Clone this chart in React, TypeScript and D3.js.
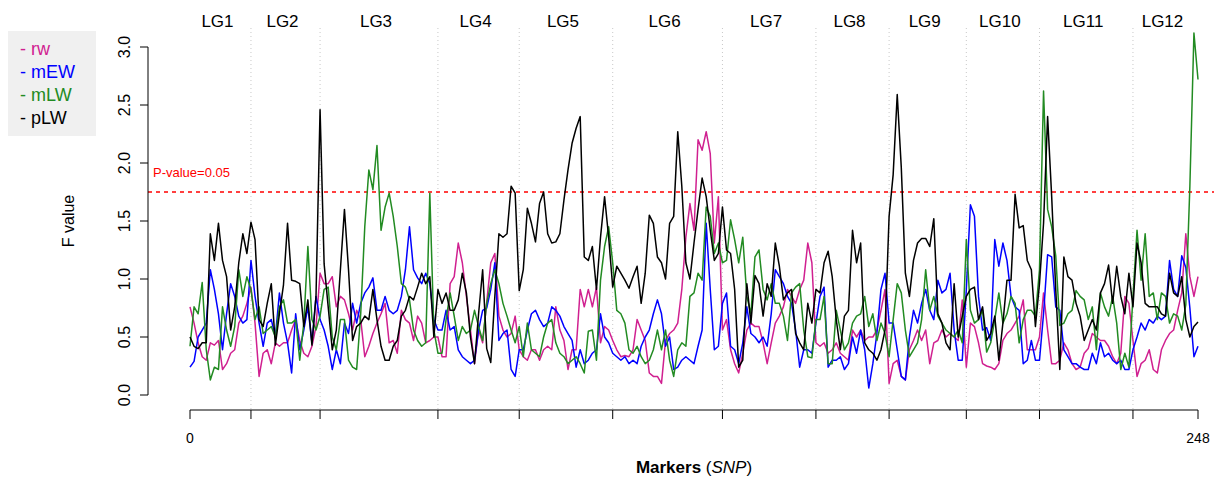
import React from "react";
import * as d3 from "d3";

const rw = [0.76,0.62,0.45,0.33,0.30,0.45,0.43,0.47,0.22,0.27,0.36,0.39,0.62,0.68,0.79,0.93,0.62,0.16,0.36,0.39,0.27,0.45,0.42,0.45,0.45,0.56,0.65,0.47,0.36,0.33,0.42,0.59,1.05,0.96,0.96,1.02,0.76,0.85,0.82,0.70,0.56,0.73,0.65,0.33,0.42,0.53,0.62,0.70,0.79,0.45,0.47,0.36,0.73,0.65,0.62,0.47,0.68,0.62,0.45,0.47,0.50,0.50,0.33,0.33,0.96,1.02,1.31,1.14,0.85,0.56,0.27,0.56,0.45,0.80,1.14,1.22,0.68,0.56,0.50,0.53,0.68,0.39,0.33,0.30,0.39,0.39,0.30,0.39,0.42,0.39,0.76,0.56,0.47,0.22,0.39,0.39,0.91,0.76,0.91,0.76,0.93,0.45,0.59,0.56,0.47,0.39,0.33,0.34,0.33,0.39,0.65,0.56,0.47,0.19,0.16,0.16,0.10,0.47,0.53,0.56,0.62,0.91,1.36,1.65,1.42,2.20,2.11,2.27,2.08,1.31,1.71,0.56,0.65,0.39,0.27,0.19,0.36,0.56,0.62,0.59,0.59,0.45,0.27,0.45,0.62,0.68,0.76,0.91,0.85,0.79,0.91,0.99,1.31,1.14,0.45,0.42,0.45,0.36,0.39,0.45,0.36,0.33,0.30,0.56,0.50,0.56,0.47,0.50,0.50,0.56,0.73,0.91,0.10,0.27,0.30,0.16,0.13,0.39,0.47,0.56,0.47,0.56,0.27,0.45,0.47,0.56,0.50,0.53,0.50,0.47,0.82,0.24,0.62,0.59,0.45,0.27,0.25,0.24,0.22,0.27,0.47,0.53,0.56,0.62,0.68,0.82,0.39,0.39,0.39,0.50,0.88,0.56,0.27,0.27,0.30,0.45,0.39,0.27,0.22,0.24,0.36,0.40,0.53,0.50,0.47,0.47,0.42,0.33,0.27,0.36,0.85,0.79,0.47,0.16,0.27,0.30,0.39,0.22,0.19,0.39,0.47,0.53,0.56,0.73,0.88,1.39,1.02,0.85,1.02];

const mEW = [0.24,0.29,0.50,0.56,0.62,1.08,0.91,0.70,0.39,0.70,0.96,0.85,0.68,0.62,0.65,1.16,0.85,0.62,0.42,0.62,0.65,0.50,0.88,0.62,0.45,0.19,0.70,0.39,0.56,0.76,0.45,0.85,0.65,0.56,0.42,0.22,0.39,0.27,0.62,0.53,0.79,0.62,0.79,0.88,0.93,1.01,0.73,0.73,0.85,0.73,0.70,0.73,0.85,1.08,1.45,1.08,1.01,0.96,1.05,0.96,0.65,0.56,0.56,0.73,0.56,0.59,0.39,0.33,0.30,0.27,0.30,0.56,0.73,0.75,0.91,1.14,0.47,0.53,0.56,0.22,0.16,0.39,0.39,0.56,0.70,0.73,0.65,0.59,0.62,0.76,0.73,0.68,0.59,0.53,0.47,0.24,0.39,0.27,0.30,0.36,0.39,0.70,0.50,0.45,0.36,0.33,0.30,0.33,0.27,0.30,0.27,0.42,0.50,0.56,0.70,0.82,0.70,0.42,0.50,0.22,0.24,0.30,0.33,0.30,0.27,0.42,0.56,1.48,0.91,0.39,0.42,0.79,0.88,0.42,0.39,0.27,0.45,0.76,0.53,0.50,0.45,0.50,0.42,0.70,1.08,1.02,0.96,0.85,0.79,0.56,0.24,0.39,0.39,0.36,0.62,0.85,0.93,0.24,0.30,0.30,0.33,0.22,0.27,0.50,0.36,0.56,0.39,0.06,0.27,0.53,0.91,1.05,0.62,0.62,0.39,0.16,0.13,0.50,0.73,0.62,0.79,0.91,0.73,0.65,0.99,0.88,0.91,1.05,0.56,0.30,0.30,0.91,1.64,1.54,0.85,0.56,0.58,0.47,1.34,1.11,1.31,1.16,0.85,0.76,0.73,0.27,0.30,0.47,0.30,0.30,0.70,1.21,1.19,0.76,0.73,0.39,0.33,0.27,0.27,0.24,0.22,0.22,0.36,0.27,0.45,0.33,0.36,0.30,0.27,0.30,0.22,0.22,0.39,0.50,0.62,0.56,0.65,0.62,0.68,0.65,0.68,1.16,0.91,0.85,1.20,1.10,0.75,0.33,0.42];

const mLW = [0.42,0.76,0.70,0.97,0.39,0.13,0.24,0.22,0.76,0.56,0.42,0.59,1.08,0.85,1.02,0.91,0.65,0.76,0.53,0.56,0.59,0.50,0.76,0.82,0.62,0.62,0.65,0.30,0.62,1.28,0.65,0.56,0.68,0.91,0.93,0.50,0.39,0.65,0.65,0.30,0.24,0.22,0.70,1.45,1.94,1.77,2.15,1.42,1.62,1.74,1.54,1.28,0.96,0.93,0.82,0.56,0.47,0.42,0.45,1.74,0.56,0.36,0.36,0.65,0.88,0.68,0.47,0.59,0.53,0.56,0.73,0.59,0.47,0.79,0.96,1.08,0.96,0.79,0.68,0.56,0.45,0.59,0.33,0.62,0.39,0.36,0.33,0.50,0.62,0.65,0.45,0.36,0.33,0.27,0.30,0.33,0.27,0.19,0.55,0.56,0.30,0.99,1.28,1.45,1.14,0.73,0.70,0.62,0.39,0.36,0.42,0.33,0.27,0.30,0.39,0.56,0.39,0.56,0.30,0.16,0.39,0.45,0.42,0.85,0.88,1.05,0.99,1.62,1.54,1.22,1.31,1.14,1.16,1.51,1.34,1.14,1.36,0.85,0.70,1.19,1.25,0.91,0.82,0.96,0.79,0.79,0.68,0.47,0.88,0.93,0.96,0.56,0.33,0.32,0.65,0.65,0.85,0.27,0.27,0.73,0.56,0.39,0.45,0.62,0.68,0.70,0.85,0.59,0.70,0.47,0.62,0.53,0.33,0.65,0.96,0.88,0.56,0.33,0.39,0.45,0.65,1.08,0.73,0.85,0.68,0.62,0.56,0.53,0.50,0.56,0.45,1.34,0.73,0.62,0.65,0.73,0.37,0.45,0.65,0.88,0.62,0.70,0.85,0.79,0.45,0.65,0.73,0.73,0.68,1.08,2.62,1.60,1.45,1.20,0.60,0.62,0.70,0.73,0.90,0.85,0.82,0.65,0.76,0.39,0.88,0.76,0.68,0.85,0.62,0.22,0.36,0.24,0.85,1.42,0.99,1.39,0.85,0.88,0.65,0.88,0.85,0.62,0.70,0.68,0.56,0.78,1.80,3.12,2.72];

const pLW = [0.50,0.42,0.40,0.45,0.45,1.39,1.16,1.48,1.16,1.02,0.56,0.76,1.14,1.39,1.22,1.49,1.34,0.65,0.59,0.79,0.96,0.43,0.70,0.95,1.48,0.99,0.98,0.96,0.59,0.82,0.43,0.85,2.46,1.13,0.76,0.39,0.56,1.08,1.60,1.08,0.47,0.59,0.62,0.68,0.65,0.91,0.65,0.42,0.30,0.30,0.42,0.47,0.68,0.73,0.85,0.82,0.93,1.05,0.96,1.02,0.50,0.91,0.79,0.88,0.73,0.73,0.82,1.05,0.88,0.50,0.27,0.70,1.08,0.40,0.28,0.85,1.39,1.36,1.39,1.80,1.74,0.90,1.08,1.61,1.48,1.32,1.65,1.75,1.39,1.31,1.32,1.39,1.68,1.94,2.17,2.30,2.40,1.19,1.16,1.28,0.91,1.36,1.71,1.36,0.93,1.11,1.05,0.99,0.92,1.02,1.11,0.79,1.05,1.55,1.48,1.19,1.14,1.00,1.48,1.54,2.27,1.80,1.14,1.00,1.31,1.60,1.87,1.71,1.42,1.16,1.22,1.62,1.25,1.22,0.91,0.24,0.30,0.96,0.62,1.03,0.96,0.68,0.96,0.85,1.31,1.11,0.82,0.88,0.91,0.53,0.45,0.39,0.79,0.62,0.91,0.88,1.14,1.24,1.02,0.65,0.39,0.68,0.73,1.42,1.14,1.31,0.45,0.39,0.36,0.30,0.39,0.56,1.54,1.90,2.59,1.96,1.05,0.85,1.16,1.31,1.35,1.35,1.28,1.52,0.70,0.62,0.45,0.39,0.96,0.50,0.68,0.85,0.91,0.93,0.65,0.76,0.47,0.53,0.68,0.30,0.62,0.99,0.99,1.73,1.44,1.46,1.16,1.08,0.59,0.96,1.48,2.40,1.71,0.91,0.22,1.19,1.02,0.99,0.79,0.68,0.47,0.56,0.65,0.56,0.88,0.96,1.12,0.79,1.11,0.85,0.70,1.05,0.76,1.31,1.14,0.79,0.76,0.76,0.76,0.70,0.68,1.05,0.88,0.85,1.02,0.65,0.50,0.59,0.63];

const lgBounds = [15, 32, 61, 81, 104, 131, 154, 172, 191, 209, 232];
const lgNames = ["LG1","LG2","LG3","LG4","LG5","LG6","LG7","LG8","LG9","LG10","LG11","LG12"];
const yTicks = [0, 0.5, 1, 1.5, 2, 2.5, 3];
const threshold = 1.75;
const nMarkers = 248;

const series = [
  { name: "rw", values: rw, color: "#D02090" },
  { name: "mEW", values: mEW, color: "#0000FF" },
  { name: "mLW", values: mLW, color: "#228B22" },
  { name: "pLW", values: pLW, color: "#000000" },
];

const FONT = "'Liberation Sans', Arial, sans-serif";

export default function App() {
  const x = d3.scaleLinear().domain([0, nMarkers]).range([190, 1198]);
  const y = d3.scaleLinear().domain([0, 3]).range([395, 47]);
  const line = d3.line<number>().x((_, i) => x(i)).y((d) => y(d));
  const edges = [0, ...lgBounds, nMarkers];
  const axisY = 410;

  return (
    <svg width={1215} height={479} style={{ position: "absolute", left: 0, top: 0, background: "#fff" }} fontFamily={FONT}>
      {lgBounds.map((b) => (
        <line key={"v" + b} x1={x(b)} x2={x(b)} y1={28} y2={axisY} stroke="#c8c8c8" strokeWidth={1} strokeDasharray="1,3" />
      ))}
      {lgNames.map((n, i) => (
        <text key={n} x={x((edges[i] + edges[i + 1]) / 2) - 3} y={27} fontSize={17} textAnchor="middle" fill="#000">{n}</text>
      ))}
      <line x1={148} x2={1214} y1={y(threshold)} y2={y(threshold)} stroke="#FF0000" strokeWidth={1.5} strokeDasharray="4,4" />
      <text x={153} y={y(threshold) - 15} fontSize={13} fill="#FF0000">P-value=0.05</text>
      {series.map((s) => (
        <path key={s.name} d={line(s.values) || ""} fill="none" stroke={s.color} strokeWidth={1.5} strokeLinejoin="round" />
      ))}
      <line x1={148} x2={148} y1={y(0)} y2={y(3)} stroke="#000" />
      {yTicks.map((t) => (
        <g key={"yt" + t}>
          <line x1={140} x2={148} y1={y(t)} y2={y(t)} stroke="#000" />
          <text transform={`translate(130,${y(t)}) rotate(-90)`} fontSize={16} textAnchor="middle" fill="#000">{t.toFixed(1)}</text>
        </g>
      ))}
      <text transform={`translate(74,221) rotate(-90)`} fontSize={16} textAnchor="middle" fill="#000">F value</text>
      <line x1={x(0)} x2={x(nMarkers)} y1={axisY} y2={axisY} stroke="#000" />
      {edges.map((b) => (
        <line key={"xt" + b} x1={x(b)} x2={x(b)} y1={axisY} y2={axisY + 9} stroke="#000" />
      ))}
      <text x={x(0)} y={443} fontSize={14} textAnchor="middle">0</text>
      <text x={x(nMarkers)} y={443} fontSize={14} textAnchor="middle">248</text>
      <text x={694} y={473} fontSize={17} textAnchor="middle">
        <tspan fontWeight="bold">Markers</tspan>
        <tspan> (</tspan>
        <tspan fontStyle="italic">SNP</tspan>
        <tspan>)</tspan>
      </text>
      <rect x={8} y={31} width={88} height={105} fill="#f0f0f0" />
      {series.map((s, i) => (
        <text key={"lg" + s.name} x={20} y={55 + i * 23} fontSize={18} fill={s.color}>- {s.name}</text>
      ))}
    </svg>
  );
}
